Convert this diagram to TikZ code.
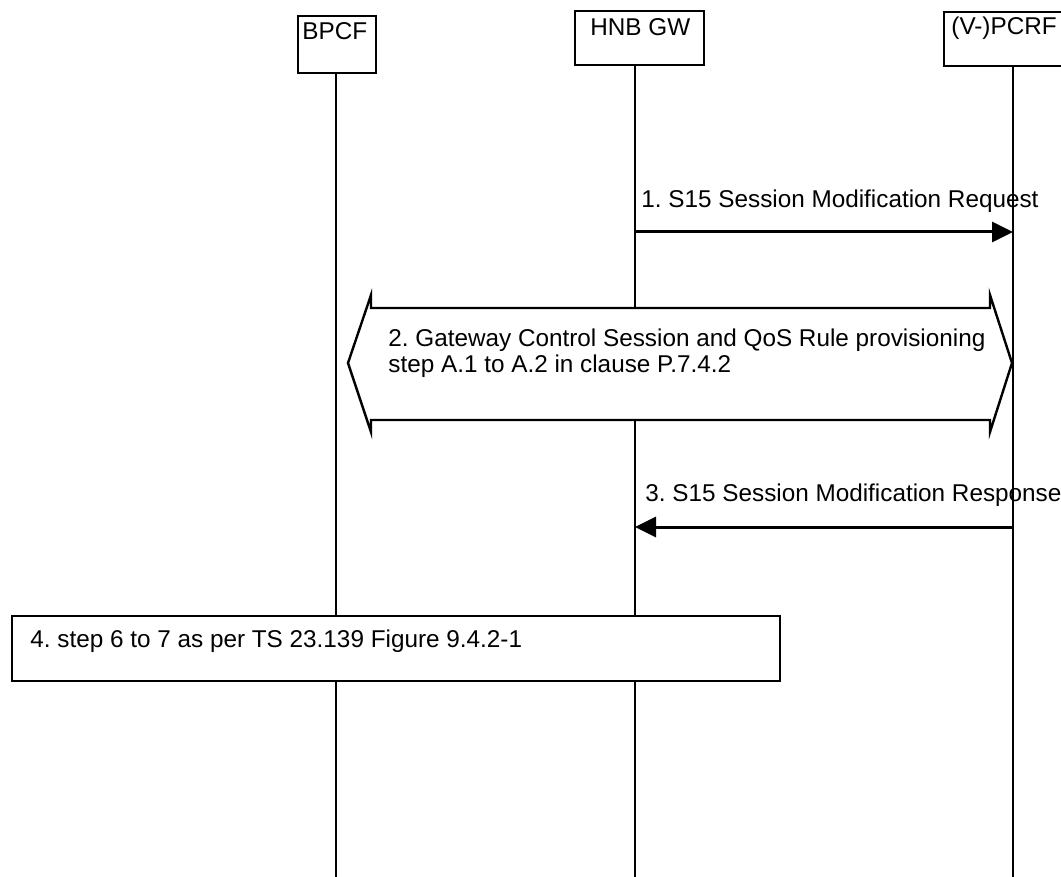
\documentclass[tikz,border=0pt]{standalone}
\usepackage{fontspec}
\setmainfont{Liberation Sans}
\usetikzlibrary{arrows.meta}
\frenchspacing

\begin{document}
\begin{tikzpicture}[x=0.5pt,y=-0.5pt,
  entity/.style={draw,line width=1.2pt,fill=white,inner sep=0pt,anchor=north west},
  lbl/.style={anchor=base west,inner sep=0pt,font=\fontsize{12.15}{13}\selectfont},
  life/.style={line width=1pt},
  msg/.style={line width=1.5pt,-{Triangle[length=10.5pt,width=10pt]}}]
  \useasboundingbox (0,0) rectangle (1061,877);
  \clip (0,0) rectangle (1061,877);
  \fill[white] (0,0) rectangle (1061,877);

  % Lifeline ends
  \coordinate (bpcfEnd) at (336,877);
  \coordinate (gwEnd) at (635,877);
  \coordinate (pcrfEnd) at (1013,877);

  % Entities
  \node[entity,minimum width=39pt,minimum height=28.5pt] (bpcf) at (297,15) {};
  \node[lbl] (bpcfTxt) at (302,40) {BPCF};
  \node[entity,minimum width=64.5pt,minimum height=27pt] (gw) at (574,10) {};
  \node[lbl] (gwTxt) at (590,36) {HNB GW};
  \node[entity,minimum width=70pt,minimum height=27pt] (pcrf) at (943,11) {};
  \node[lbl] (pcrfTxt) at (951,35) {(V-)PCRF};

  % Lifelines
  \draw[life] (bpcfEnd |- bpcf.south) -- (bpcfEnd);
  \draw[life] (gwEnd |- gw.south) -- (gwEnd);
  \draw[life] (pcrfEnd |- pcrf.south) -- (pcrfEnd);

  % 1. request
  \coordinate (m1a) at (635,232);
  \coordinate (m1b) at (1013,232);
  \draw[msg] (m1a) -- (m1b);
  \node[lbl] (m1) at (641,208) {1. S15 Session Modification Request};

  % 2. double arrow block
  \draw[line width=1.2pt,fill=white,line join=miter]
    (371,308) -- (990,308) -- (990,295) -- (1012,363) -- (990,432) -- (990,420)
    -- (371,420) -- (371,432) -- (348,363) -- (371,295) -- cycle;
  \node[lbl,anchor=north west,align=left] (blk2) at (388,328)
    {2. Gateway Control Session and QoS Rule provisioning\\step A.1 to A.2 in clause P.7.4.2};

  % 3. response
  \coordinate (m3a) at (1013,527);
  \coordinate (m3b) at (635,527);
  \draw[msg] (m3a) -- (m3b);
  \node[lbl] (m3) at (645,502) {3. S15 Session Modification Response};

  % 4. step box
  \node[entity,minimum width=384pt,minimum height=32.5pt] (step4) at (11,615) {};
  \node[lbl] (step4Txt) at (30,647) {4. step 6 to 7 as per TS 23.139 Figure 9.4.2-1};
\end{tikzpicture}
\end{document}
